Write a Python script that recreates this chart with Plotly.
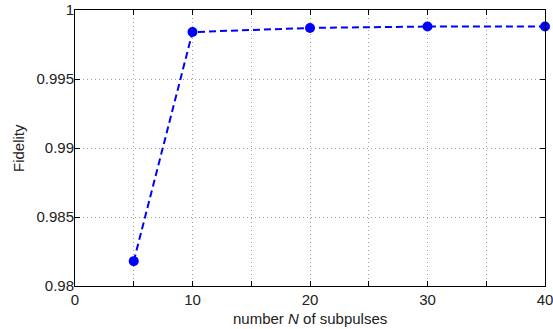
import plotly.graph_objects as go

n_subpulses = [5, 10, 20, 30, 40]
fidelity = [0.9818, 0.9984, 0.9987, 0.9988, 0.9988]

x_tickvals = [0, 5, 10, 15, 20, 25, 30, 35, 40]
x_ticktext = ["0", "", "10", "", "20", "", "30", "", "40"]
y_tickvals = [0.98, 0.985, 0.99, 0.995, 1.0]
y_ticktext = ["0.98", "0.985", "0.99", "0.995", "1"]

font_family = "Liberation Sans, Arial, Helvetica, sans-serif"
text_color = "#222222"

fig = go.Figure()
fig.add_trace(go.Scatter(
    x=n_subpulses, y=fidelity, mode="lines+markers",
    line=dict(color="#0000FF", width=2, dash="7px,4px"),
    marker=dict(color="#0000FF", size=10),
    cliponaxis=False, showlegend=False,
))

axis_common = dict(
    showline=True, linecolor="black", linewidth=1, mirror="allticks",
    ticks="inside", ticklen=5, tickcolor="black", tickwidth=1,
    showgrid=True, gridcolor="#a0a0a0", griddash="1px,3px", gridwidth=1,
    zeroline=False, automargin=False, ticklabeloverflow="allow",
    tickfont=dict(size=15, color=text_color, family=font_family),
)

fig.update_layout(
    width=553, height=329,
    margin=dict(l=75, r=8, t=10, b=43),
    plot_bgcolor="white", paper_bgcolor="white",
    font=dict(family=font_family, color=text_color),
    xaxis=dict(range=[0, 40], tickvals=x_tickvals, ticktext=x_ticktext, **axis_common),
    yaxis=dict(range=[0.98, 1.0], tickvals=y_tickvals, ticktext=y_ticktext,
               ticklabelstandoff=-3, **axis_common),
    annotations=[
        dict(text="number <i>N</i> of subpulses", xref="paper", yref="paper",
             x=0.5, y=0, xanchor="center", yanchor="top", yshift=-22,
             showarrow=False, font=dict(size=15, color=text_color, family=font_family)),
        dict(text="Fidelity", xref="paper", yref="paper", textangle=-90,
             x=0, y=0.5, xanchor="center", yanchor="middle", xshift=-57,
             showarrow=False, font=dict(size=15, color=text_color, family=font_family)),
    ],
)

fig.write_html("out.html", config={"displayModeBar": False},
               post_script="document.body.style.margin='0';")
